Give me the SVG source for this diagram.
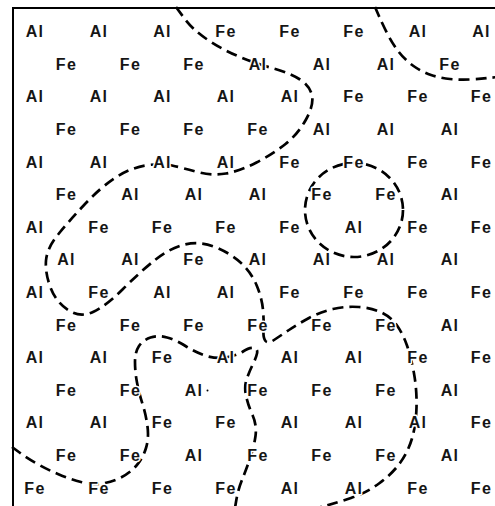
<svg xmlns="http://www.w3.org/2000/svg" width="495" height="506" viewBox="0 0 495 506">
<style>
text{font-family:"Liberation Sans",Arial,sans-serif;font-size:16px;font-weight:bold;letter-spacing:1.3px;text-anchor:middle;fill:#151515;stroke:#fff;stroke-width:3px;stroke-linejoin:round;paint-order:stroke}
.b{fill:none;stroke:#000;stroke-width:2.7;stroke-dasharray:11 6}
.frame{fill:none;stroke:#000;stroke-width:2}
</style>
<rect width="495" height="506" fill="#fff"/>
<path class="frame" d="M13,506 L13,8 L495,8"/>
<g id="boundaries">
<path id="boundary-a" class="b" d="M176,7 L184.5,18.5 Q193,30 208,40 Q223,50 240,57 Q257,64 273.5,68.5 Q290,73 300,79.5 Q310,86 312,95.5 Q314,105 306,119.5 Q298,134 285.5,144 Q273,154 256.5,162.5 Q240,171 226,173.5 Q212,176 197.5,172 Q183,168 172,165.5 Q161,163 145.5,165.5 Q130,168 115,178 Q100,188 85,204 Q70,220 58.5,234 Q47,248 46,260.5 Q45,273 50.5,287.5 Q56,302 68,310 Q80,318 93,312 Q106,306 123,289 Q140,272 155,260 Q170,248 185,244.5 Q200,241 215,247 Q230,253 240.5,262.5 Q251,272 256.5,285 Q262,298 263,310 Q264,322 263.5,330 Q263,338 265.5,341 Q268,344 274,340 Q280,336 289,330 Q298,324 309,318 Q320,312 333,309 Q346,306 359,307 Q372,308 381.5,312.5 Q391,317 397,325.5 Q403,334 407,345.5 Q411,357 414,373.5 Q417,390 416.5,407.5 Q416,425 412,438.5 Q408,452 400,463 Q392,474 379,483.5 Q366,493 351,498 Q336,503 323,506.5 L310,510"/>
<path id="boundary-c" class="b" d="M12,447 L19.5,452.5 Q27,458 37.5,464 Q48,470 59,474.5 Q70,479 81,482 Q92,485 102,483.5 Q112,482 121,477.5 Q130,473 136.5,465.5 Q143,458 146,448 Q149,438 147.5,426.5 Q146,415 142.5,404 Q139,393 137,382.5 Q135,372 135,362 Q135,352 139,346 Q143,340 150.5,337.5 Q158,335 167,337.5 Q176,340 185.5,346 Q195,352 205,355.5 Q215,359 225.5,357.5 Q236,356 243,351.5 Q250,347 254,348 Q258,349 257,353.5 Q256,358 253,364 Q250,370 247,378 Q244,386 246,395.5 Q248,405 252.5,415 Q257,425 255.5,436 Q254,447 250,458.5 Q246,470 242,480 Q238,490 236.5,499 L235,508"/>
<path id="boundary-e" class="b" d="M375,7 L378.5,15 Q382,23 387,33 Q392,43 398.5,51.5 Q405,60 413.5,66 Q422,72 431,75 Q440,78 450,79 Q460,80 470,79.5 Q480,79 488.5,78 L497,77"/>
<ellipse id="boundary-f" class="b" cx="354" cy="210" rx="49" ry="47"/>
</g>
<g id="atoms">
<text x="35" y="37.2">Al</text><text x="99" y="37.2">Al</text><text x="162.5" y="37.2">Al</text><text x="226" y="37.2">Fe</text><text x="290" y="37.2">Fe</text><text x="354" y="37.2">Fe</text><text x="418" y="37.2">Al</text><text x="481.5" y="37.2">Al</text>
<text x="66.5" y="69.8">Fe</text><text x="130.5" y="69.8">Fe</text><text x="194" y="69.8">Fe</text><text x="258" y="69.8">Al</text><text x="322" y="69.8">Al</text><text x="386" y="69.8">Al</text><text x="450" y="69.8">Fe</text>
<text x="35" y="102.4">Al</text><text x="99" y="102.4">Al</text><text x="162.5" y="102.4">Al</text><text x="226" y="102.4">Al</text><text x="290" y="102.4">Al</text><text x="354" y="102.4">Fe</text><text x="418" y="102.4">Fe</text><text x="481.5" y="102.4">Fe</text>
<text x="66.5" y="135">Fe</text><text x="130.5" y="135">Fe</text><text x="194" y="135">Fe</text><text x="258" y="135">Fe</text><text x="322" y="135">Al</text><text x="386" y="135">Al</text><text x="450" y="135">Al</text>
<text x="35" y="167.6">Al</text><text x="99" y="167.6">Al</text><text x="162.5" y="167.6">Al</text><text x="226" y="167.6">Al</text><text x="290" y="167.6">Fe</text><text x="354" y="167.6">Fe</text><text x="418" y="167.6">Fe</text><text x="481.5" y="167.6">Fe</text>
<text x="66.5" y="200.2">Fe</text><text x="130.5" y="200.2">Al</text><text x="194" y="200.2">Al</text><text x="258" y="200.2">Al</text><text x="322" y="200.2">Fe</text><text x="386" y="200.2">Fe</text><text x="450" y="200.2">Al</text>
<text x="35" y="232.8">Al</text><text x="99" y="232.8">Fe</text><text x="162.5" y="232.8">Fe</text><text x="226" y="232.8">Fe</text><text x="290" y="232.8">Fe</text><text x="354" y="232.8">Al</text><text x="418" y="232.8">Fe</text><text x="481.5" y="232.8">Fe</text>
<text x="66.5" y="265.4">Al</text><text x="130.5" y="265.4">Al</text><text x="194" y="265.4">Fe</text><text x="258" y="265.4">Al</text><text x="322" y="265.4">Al</text><text x="386" y="265.4">Al</text><text x="450" y="265.4">Al</text>
<text x="35" y="298">Al</text><text x="99" y="298">Fe</text><text x="162.5" y="298">Al</text><text x="226" y="298">Al</text><text x="290" y="298">Fe</text><text x="354" y="298">Fe</text><text x="418" y="298">Fe</text><text x="481.5" y="298">Fe</text>
<text x="66.5" y="330.6">Fe</text><text x="130.5" y="330.6">Fe</text><text x="194" y="330.6">Fe</text><text x="258" y="330.6">Fe</text><text x="322" y="330.6">Fe</text><text x="386" y="330.6">Fe</text><text x="450" y="330.6">Al</text>
<text x="35" y="363.2">Al</text><text x="99" y="363.2">Al</text><text x="162.5" y="363.2">Fe</text><text x="226" y="363.2">Al</text><text x="290" y="363.2">Al</text><text x="354" y="363.2">Al</text><text x="418" y="363.2">Fe</text><text x="481.5" y="363.2">Fe</text>
<text x="66.5" y="395.8">Fe</text><text x="130.5" y="395.8">Fe</text><text x="194" y="395.8">Al</text><text x="258" y="395.8">Fe</text><text x="322" y="395.8">Fe</text><text x="386" y="395.8">Fe</text><text x="450" y="395.8">Al</text>
<text x="35" y="428.4">Al</text><text x="99" y="428.4">Al</text><text x="162.5" y="428.4">Fe</text><text x="226" y="428.4">Fe</text><text x="290" y="428.4">Al</text><text x="354" y="428.4">Al</text><text x="418" y="428.4">Al</text><text x="481.5" y="428.4">Fe</text>
<text x="66.5" y="461">Fe</text><text x="130.5" y="461">Fe</text><text x="194" y="461">Al</text><text x="258" y="461">Fe</text><text x="322" y="461">Fe</text><text x="386" y="461">Fe</text><text x="450" y="461">Al</text>
<text x="35" y="493.6">Fe</text><text x="99" y="493.6">Fe</text><text x="162.5" y="493.6">Fe</text><text x="226" y="493.6">Fe</text><text x="290" y="493.6">Al</text><text x="354" y="493.6">Al</text><text x="418" y="493.6">Fe</text><text x="481.5" y="493.6">Fe</text>
</g>
<circle cx="207.5" cy="390.5" r="1" fill="#000"/>
</svg>
